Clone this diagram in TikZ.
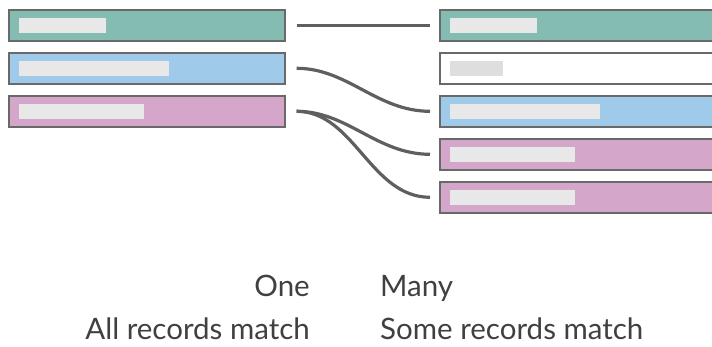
\documentclass[tikz,border=0pt]{standalone}
\usepackage{fontspec}
\setmainfont{Lato}
\usepackage{xcolor}
\usepackage{tikz}
\usetikzlibrary{positioning}
\definecolor{RecTeal}{RGB}{133,188,178}
\definecolor{RecBlue}{RGB}{160,202,234}
\definecolor{RecPink}{RGB}{212,166,201}
\definecolor{RecEdge}{RGB}{105,105,105}
\definecolor{RecField}{RGB}{232,232,232}
\definecolor{RecLink}{RGB}{95,95,95}
\definecolor{RecText}{RGB}{64,64,64}

\begin{document}
\begin{tikzpicture}[x=1pt, y=-1pt,
      rec/.style={draw=RecEdge, line width=1.6pt, minimum height=31pt,
                  anchor=north west, inner sep=0pt},
      fld/.style={fill=RecField, minimum height=15pt, anchor=west, inner sep=0pt},
      link/.style={draw=RecLink, line width=3.2pt, shorten <=11pt, shorten >=9pt},
      lbl/.style={font=\fontsize{29.5}{34}\selectfont, text=RecText, inner sep=0pt}
    ]
    \clip (0,0) rectangle (712,347);

    % left table
    \node[rec, minimum width=276pt, fill=RecTeal] (l1) at (8,9)  {};
    \node[rec, minimum width=276pt, fill=RecBlue] (l2) at (8,52) {};
    \node[rec, minimum width=276pt, fill=RecPink] (l3) at (8,95) {};

    % right table
    \foreach \n/\y/\c in {1/9/RecTeal, 2/52/white, 3/95/RecBlue, 4/138/RecPink, 5/181/RecPink}{
      \node[rec, minimum width=290pt, fill=\c] (r\n) at (439,\y) {};
    }

    % fields
    \foreach \n/\w in {l1/87, l2/150, l3/125, r1/87, r3/150, r4/125, r5/125}{
      \node[fld, minimum width=\w pt] (f\n) at ([xshift=11pt]\n.west) {};
    }
    \node[fld, minimum width=53pt, fill=RecField!90!gray] (fr2) at ([xshift=11pt]r2.west) {};

    \draw[link] (l1.east) -- (r1.west);
    \draw[link] (l2.east) to[out=0, in=180] (r3.west);
    \draw[link] (l3.east) to[out=0, in=180] (r4.west);
    \draw[link] (l3.east) to[out=0, in=180] (r5.west);

    \node[lbl, anchor=base east] (one)  at (310,297) {One};
    \node[lbl, anchor=base west] (many) at (380,297) {Many};
    \node[lbl, anchor=base east] (all)  at (310,339) {All records match};
    \node[lbl, anchor=base west] (some) at (380,339) {Some records match};
  \end{tikzpicture}
\end{document}
